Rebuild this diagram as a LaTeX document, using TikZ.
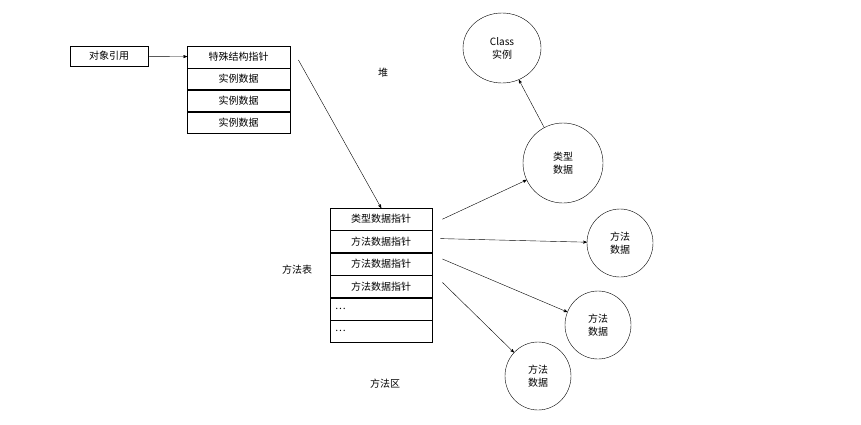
\documentclass[tikz,border=0pt]{standalone}
\usepackage{fontspec}
\setmainfont{Liberation Sans}
\newfontfamily\cjk{Noto Sans CJK SC}
\usetikzlibrary{arrows,positioning}
\tikzset{ >=stealth', feld/.style={ rectangle, draw=black, thin, minimum width=103pt, minimum height=21.5pt, inner sep=0pt, font=\cjk\fontsize{10}{12}\selectfont}, kreis/.style={ ellipse, draw=black, thin, inner sep=0pt, font=\cjk\fontsize{10}{13}\selectfont, align=center}, pil/.style={ ->, thin}}
\usetikzlibrary{shapes.geometric}
\begin{document}
\begin{tikzpicture}[x=1pt,y=-1pt]
    \useasboundingbox (0,0) rectangle (861,424);
    %heap
    \node[feld, minimum width=78pt, minimum height=20pt] (ref) at (109,56) {对象引用};
    \node[feld, anchor=north west] (h1) at (187,46) {特殊结构指针};
    \node[feld, below=0pt of h1] (h2) {实例数据};
    \node[feld, below=0pt of h2] (h3) {实例数据};
    \node[feld, below=0pt of h3] (h4) {实例数据};
    \node[font=\cjk\fontsize{10}{12}\selectfont] (dui) at (383,73) {堆};
    % method area
    \node[feld, minimum width=102pt, minimum height=22pt, anchor=north west] (m1) at (330,208) {类型数据指针};
    \node[feld, minimum width=102pt, minimum height=22pt, below=0pt of m1] (m2) {方法数据指针};
    \node[feld, minimum width=102pt, minimum height=22pt, below=0pt of m2] (m3) {方法数据指针};
    \node[feld, minimum width=102pt, minimum height=22pt, below=0pt of m3] (m4) {方法数据指针};
    \node[feld, minimum width=102pt, minimum height=22pt, below=0pt of m4, text width=92pt] (m5) {…};
    \node[feld, minimum width=102pt, minimum height=22pt, below=0pt of m5, text width=92pt] (m6) {…};
    \node[font=\cjk\fontsize{10}{12}\selectfont] (tab) at (297,270) {方法表};
    \node[font=\cjk\fontsize{10}{12}\selectfont] (qu) at (385,384) {方法区};
    % circles
    \node[kreis, minimum width=78pt, minimum height=70pt] (cls) at (502,48) {Class\\实例};
    \node[kreis, minimum width=80pt, minimum height=80pt] (typ) at (563,163) {类型\\数据};
    \node[kreis, minimum width=66pt, minimum height=68pt] (f1) at (620,243) {方法\\数据};
    \node[kreis, minimum width=66pt, minimum height=68pt] (f2) at (598,325) {方法\\数据};
    \node[kreis, minimum width=66pt, minimum height=68pt] (f3) at (538,376) {方法\\数据};
    % arrows
    \draw[pil] (ref) -- (h1);
    \draw[pil] ([xshift=8pt,yshift=-3pt]h1.east) -- (m1.north);
    \draw[pil] ([xshift=10pt]m1.east) -- (typ);
    \draw[pil] ([xshift=8pt,yshift=3pt]m2.east) -- (f1);
    \draw[pil] ([xshift=10pt,yshift=5pt]m3.east) -- (f2);
    \draw[pil] ([xshift=10pt,yshift=4pt]m4.east) -- (f3);
    \draw[pil] (typ) -- (cls);
\end{tikzpicture}
\end{document}
